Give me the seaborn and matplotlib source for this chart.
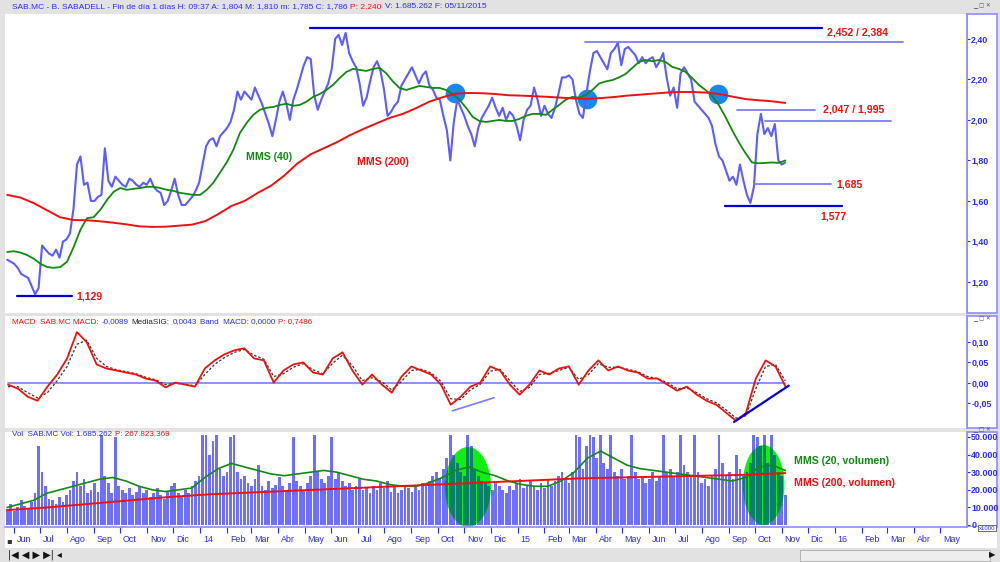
import pandas as pd
import matplotlib
matplotlib.use("Agg")
import matplotlib.pyplot as plt
import matplotlib.dates as mdates
import matplotlib.transforms as mtransforms
from matplotlib.patches import Ellipse, Rectangle
import seaborn as sns

# ---------------- data ----------------
price_start, price_end = "2013-05-24", "2015-11-05"

# close price, one value every ~4 days
price = [
    1.31, 1.30, 1.29, 1.27, 1.24, 1.23, 1.22, 1.18, 1.14, 1.17,
    1.38, 1.36, 1.34, 1.33, 1.36, 1.32, 1.40, 1.41, 1.44, 1.56,
    1.78, 1.82, 1.68, 1.69, 1.60, 1.60, 1.62, 1.63, 1.86, 1.70,
    1.67, 1.72, 1.70, 1.68, 1.67, 1.71, 1.70, 1.68, 1.67, 1.69,
    1.68, 1.71, 1.67, 1.65, 1.64, 1.58, 1.60, 1.65, 1.71, 1.63,
    1.58, 1.58, 1.60, 1.62, 1.65, 1.69, 1.78, 1.87, 1.90, 1.91,
    1.87, 1.92, 1.94, 1.96, 1.99, 2.05, 2.14, 2.10, 2.14, 2.12,
    2.10, 2.16, 2.12, 2.08, 2.03, 1.98, 1.92, 2.00, 2.09, 2.14,
    2.08, 2.00, 2.10, 2.15, 2.21, 2.27, 2.31, 2.30, 2.12, 2.05,
    2.10, 2.14, 2.18, 2.25, 2.40, 2.42, 2.37, 2.43, 2.33, 2.29,
    2.26, 2.18, 2.07, 2.11, 2.19, 2.26, 2.29, 2.24, 2.15, 2.02,
    2.04, 2.07, 2.09, 2.17, 2.20, 2.23, 2.26, 2.22, 2.18, 2.22,
    2.24, 2.17, 2.15, 2.11, 2.10, 2.02, 1.95, 1.80, 1.99, 2.10,
    2.06, 2.02, 1.97, 1.93, 1.87, 1.96, 2.01, 2.04, 2.07, 2.11,
    2.06, 2.02, 2.06, 2.00, 2.04, 2.02, 1.97, 1.90, 2.00, 2.05,
    2.07, 2.16, 2.10, 2.02, 2.07, 2.03, 2.01, 2.06, 2.13, 2.21,
    2.21, 2.22, 2.20, 2.10, 2.03, 2.01, 2.13, 2.24, 2.33, 2.34,
    2.31, 2.28, 2.25, 2.33, 2.35, 2.38, 2.27, 2.35, 2.36, 2.34,
    2.32, 2.28, 2.31, 2.28, 2.30, 2.31, 2.26, 2.29, 2.33, 2.21,
    2.12, 2.16, 2.06, 2.23, 2.26, 2.23, 2.20, 2.09, 2.07, 2.05,
    2.03, 2.01, 1.97, 1.88, 1.82, 1.80, 1.75, 1.70, 1.72, 1.68,
    1.78, 1.70, 1.63, 1.59, 1.67, 1.93, 2.03, 1.93, 1.96, 1.92,
    1.98, 1.80, 1.78, 1.79,
]

# MMS (40)
mms40 = [
    1.348, 1.352, 1.345, 1.333, 1.315, 1.29, 1.274, 1.27, 1.274, 1.30,
    1.373, 1.457, 1.515, 1.52, 1.556, 1.605, 1.645, 1.664, 1.655, 1.66,
    1.664, 1.67, 1.67, 1.664, 1.655, 1.65, 1.64, 1.635, 1.63, 1.63,
    1.655, 1.69, 1.74, 1.79, 1.852, 1.936, 1.985, 2.025, 2.05, 2.06,
    2.064, 2.074, 2.08, 2.07, 2.074, 2.09, 2.114, 2.128, 2.148, 2.173,
    2.207, 2.237, 2.252, 2.247, 2.242, 2.252, 2.257, 2.23, 2.19, 2.158,
    2.148, 2.158, 2.168, 2.163, 2.158, 2.158, 2.148, 2.128, 2.10, 2.06,
    2.015, 1.995, 1.99, 1.995, 2.00, 1.995, 1.995, 2.005, 2.02, 2.03,
    2.03, 2.025, 2.05, 2.074, 2.10, 2.114, 2.11, 2.123, 2.148, 2.18,
    2.19, 2.197, 2.21, 2.227, 2.257, 2.286, 2.296, 2.29, 2.296, 2.286,
    2.262, 2.252, 2.237, 2.207, 2.173, 2.148, 2.119, 2.074, 2.015, 1.95,
    1.89, 1.837, 1.79, 1.786, 1.788, 1.79, 1.788, 1.80,
]

# MMS (200)
mms200 = [
    1.63, 1.617, 1.59, 1.555, 1.52, 1.506, 1.505, 1.50, 1.493, 1.485,
    1.475, 1.472, 1.473, 1.478, 1.483, 1.50, 1.535, 1.575, 1.60, 1.64,
    1.675, 1.725, 1.785, 1.83, 1.86, 1.89, 1.925, 1.955, 1.983, 2.01,
    2.03, 2.058, 2.09, 2.112, 2.13, 2.133, 2.132, 2.128, 2.122, 2.12,
    2.117, 2.114, 2.11, 2.106, 2.104, 2.108, 2.113, 2.12, 2.125, 2.13,
    2.135, 2.138, 2.138, 2.135, 2.128, 2.115, 2.103, 2.097, 2.092, 2.084,
]

# MMS crossings (blue dots)
cross_dates = ["2014-10-21", "2015-03-22", "2015-08-20"]
cross_values = [2.133, 2.104, 2.128]

# MACD panel
macd_start, macd_end = "2013-05-25", "2015-11-05"
macd = [
    -0.005, -0.015, -0.035, -0.045, -0.010, 0.020, 0.060, 0.125, 0.100, 0.045,
    0.035, 0.030, 0.025, 0.020, 0.010, 0.005, -0.012, 0.000, -0.005, -0.010,
    0.035, 0.055, 0.070, 0.080, 0.085, 0.060, 0.055, 0.000, 0.030, 0.045,
    0.050, 0.025, 0.020, 0.060, 0.075, 0.030, -0.005, 0.020, -0.005, -0.025,
    0.015, 0.040, 0.030, 0.020, -0.005, -0.055, -0.035, -0.010, 0.000, 0.040,
    0.030, -0.005, -0.030, -0.005, 0.030, 0.020, 0.035, 0.040, -0.005, 0.030,
    0.055, 0.030, 0.040, 0.030, 0.025, 0.010, 0.010, -0.005, -0.020, -0.010,
    -0.030, -0.045, -0.055, -0.075, -0.095, -0.075, 0.010, 0.055, 0.040, -0.009,
]
macd_signal = [
    -0.010, -0.010, -0.025, -0.038, -0.025, 0.005, 0.040, 0.095, 0.105, 0.060,
    0.040, 0.032, 0.027, 0.022, 0.013, 0.007, -0.005, -0.002, -0.004, -0.008,
    0.020, 0.045, 0.062, 0.075, 0.082, 0.068, 0.058, 0.015, 0.022, 0.038,
    0.047, 0.032, 0.022, 0.048, 0.068, 0.042, 0.005, 0.012, 0.002, -0.018,
    0.003, 0.030, 0.033, 0.024, 0.003, -0.040, -0.042, -0.018, -0.004, 0.028,
    0.033, 0.005, -0.022, -0.012, 0.020, 0.023, 0.030, 0.038, 0.008, 0.020,
    0.047, 0.038, 0.038, 0.033, 0.027, 0.015, 0.010, 0.000, -0.015, -0.013,
    -0.025, -0.040, -0.050, -0.068, -0.088, -0.082, -0.015, 0.040, 0.045, 0.004,
]

# volume, millions of shares (same dates as price)
volume = [
    9, 12, 8, 10, 14, 11, 9, 13, 18, 45,
    30, 22, 15, 14, 12, 16, 13, 17, 20, 25,
    30, 22, 26, 18, 20, 24, 19, 51, 28, 24,
    18, 50, 22, 20, 18, 21, 17, 19, 22, 18,
    20, 16, 18, 21, 17, 15, 19, 22, 24, 18,
    16, 20, 18, 22, 25, 28, 51, 51, 40, 48,
    51, 32, 28, 30, 50, 51, 30, 26, 28, 24,
    22, 26, 34, 22, 20, 25, 21, 23, 27, 22,
    20, 24, 50, 25, 22, 20, 24, 28, 51, 30,
    26, 24, 28, 50, 26, 30, 25, 22, 24, 20,
    22, 26, 20, 21, 18, 22, 20, 24, 21, 25,
    19, 22, 18, 20, 23, 21, 19, 22, 20, 24,
    22, 25, 28, 30, 26, 32, 38, 51, 40, 35,
    30, 28, 51, 45, 32, 28, 25, 24, 22, 20,
    24, 22, 20, 18, 22, 20, 24, 26, 21, 23,
    25, 22, 20, 24, 21, 26, 22, 25, 28, 30,
    26, 24, 30, 51, 50, 32, 45, 51, 50, 38,
    51, 35, 32, 51, 30, 28, 32, 26, 28, 51,
    30, 26, 28, 24, 26, 30, 25, 28, 51, 30,
    32, 28, 30, 51, 34, 30, 28, 51, 30, 24,
    26, 22, 28, 32, 51, 35, 28, 30, 26, 40,
    32, 28, 30, 35, 51, 50, 45, 51, 35, 51,
    40, 30, 28, 17,
]
vol_mms20 = [
    10, 12, 14, 18, 20, 22, 24, 26, 27, 25,
    22, 20, 19, 20, 21, 27, 32, 35, 33, 31,
    29, 28, 29, 30, 31, 30, 28, 26, 25, 23,
    22, 22, 24, 27, 31, 33, 30, 28, 25, 23,
    22, 22, 25, 30, 38, 42, 38, 34, 32, 31,
    30, 29, 28, 27, 26, 25, 27, 33, 34, 31,
]
vol_mms200 = [
    8.5, 10, 12, 14, 16, 17.5, 18.5, 19.5, 20.5, 21.5,
    22.5, 23.5, 24.5, 25.5, 26.5, 27, 27.5, 28, 28.5, 29.5,
]

month_labels = ["Jun", "Jul", "Ago", "Sep", "Oct", "Nov", "Dic", "14", "Feb",
                "Mar", "Abr", "May", "Jun", "Jul", "Ago", "Sep", "Oct", "Nov",
                "Dic", "15", "Feb", "Mar", "Abr", "May", "Jun", "Jul", "Ago",
                "Sep", "Oct", "Nov", "Dic", "16", "Feb", "Mar", "Abr", "May"]

# support / resistance lines: value, from, to, strong
levels = [
    (2.452, "2014-05-07", "2015-12-17", True),
    (2.384, "2015-03-20", "2016-03-19", False),
    (2.047, "2015-09-11", "2015-12-09", False),
    (1.995, "2015-10-13", "2016-03-06", False),
    (1.685, "2015-09-30", "2015-12-27", False),
    (1.577, "2015-08-28", "2016-01-09", True),
    (1.129, "2013-06-04", "2013-08-06", True),
]
level_labels = [
    ("2,452 / 2,384", "2015-12-23", 2.430),
    ("2,047 / 1,995", "2015-12-18", 2.050),
    ("1,685", "2016-01-03", 1.680),
    ("1,577", "2015-12-15", 1.525),
    ("1,129", "2013-08-12", 1.126),
]

# volume highlights: centre date, centre value, width in days, height
vol_marks = [("2014-11-05", 21.6, 53, 45.4), ("2015-10-11", 22.7, 48, 45.4)]

# ---------------- styling ----------------
sns.set_theme(style="white")
plt.rcParams["font.family"] = ["Liberation Sans", "DejaVu Sans"]

W, H = 1000, 562
BLUE_TXT = "#2a2aff"
PRICE_C = "#5c5cff"
GREEN = "#118a11"
RED = "#f01010"
FRAME = "#8c8cff"
DARK = "#0000dd"
LIGHT = "#7c7cff"
VOL_C = "#6e6eff"


def rect(x0, y0, x1, y1):
    return [x0 / W, 1 - y1 / H, (x1 - x0) / W, (y1 - y0) / H]


fig = plt.figure(figsize=(10, 5.62), dpi=100, facecolor="#e2e2e2")

# white backgrounds of the right scales and the date strip
for y0, y1 in [(14, 313), (316, 428), (432, 527)]:
    fig.add_artist(Rectangle((967 / W, 1 - y1 / H), 30 / W, (y1 - y0) / H,
                             transform=fig.transFigure, facecolor="white",
                             edgecolor=FRAME, lw=1.2, zorder=0))
fig.add_artist(Rectangle((5 / W, 1 - 548 / H), 992 / W, 21 / H,
                         transform=fig.transFigure, facecolor="white",
                         edgecolor="none", zorder=0))

axp = fig.add_axes(rect(5, 14, 967, 313))
axm = fig.add_axes(rect(5, 316, 967, 428), sharex=axp)
axv = fig.add_axes(rect(5, 432, 967, 527), sharex=axp)

d_price = pd.date_range(price_start, price_end, periods=len(price))
d_m40 = pd.date_range(price_start, price_end, periods=len(mms40))
d_m200 = pd.date_range(price_start, price_end, periods=len(mms200))
d_macd = pd.date_range(macd_start, macd_end, periods=len(macd))
d_sig = pd.date_range(macd_start, macd_end, periods=len(macd_signal))
d_v20 = pd.date_range(price_start, price_end, periods=len(vol_mms20))
d_v200 = pd.date_range(price_start, price_end, periods=len(vol_mms200))

# ---- price panel ----
axp.scatter(pd.to_datetime(cross_dates), cross_values, s=200,
            color="#1a86f0", zorder=1.5, linewidths=0)
sns.lineplot(x=d_price, y=price, ax=axp, color=PRICE_C, lw=1.5, estimator=None, zorder=2)
sns.lineplot(x=d_m40, y=mms40, ax=axp, color=GREEN, lw=1.3, estimator=None, zorder=3)
sns.lineplot(x=d_m200, y=mms200, ax=axp, color=RED, lw=1.4, estimator=None, zorder=3)

for val, a, b, strong in levels:
    axp.plot(pd.to_datetime([a, b]), [val, val], color=DARK if strong else LIGHT,
             lw=1.6 if strong else 1.3, zorder=4)
for txt, d, val in level_labels:
    axp.text(pd.Timestamp(d), val, txt, color=RED, fontsize=7.6,
             fontweight="bold", va="center", ha="left")
axp.text(pd.Timestamp("2014-02-23"), 1.817, "MMS (40)", color=GREEN,
         fontsize=7.6, fontweight="bold", va="center")
axp.text(pd.Timestamp("2014-06-30"), 1.790, "MMS (200)", color=RED,
         fontsize=7.6, fontweight="bold", va="center")

# ---- MACD panel ----
axm.plot(pd.to_datetime([macd_start, macd_end]), [0, 0], color=LIGHT, lw=1.2)
sns.lineplot(x=d_sig, y=macd_signal, ax=axm, color="#333333", lw=0.9,
             linestyle=(0, (2, 1.5)), estimator=None)
sns.lineplot(x=d_macd, y=macd, ax=axm, color=RED, lw=1.3, estimator=None)
axm.plot(pd.to_datetime(["2014-10-18", "2014-12-05"]), [-0.070, -0.0375],
         color=LIGHT, lw=1.2)
axm.plot(pd.to_datetime(["2015-09-07", "2015-11-09"]), [-0.0975, -0.0075],
         color=DARK, lw=1.6)

# ---- volume panel ----
axv.bar(d_price, volume, width=3.2, color=VOL_C, linewidth=0, zorder=1)
for center, val, wd, ht in vol_marks:
    ell = Ellipse((mdates.date2num(pd.Timestamp(center)), val), wd, ht,
                  facecolor="#10f010", lw=0, zorder=2)
    axv.add_patch(ell)
    # bars seen through the green mark turn teal
    inner = axv.bar(d_price, volume, width=3.2, color="#0a7f6a", linewidth=0, zorder=2.5)
    for patch in inner:
        patch.set_clip_path(ell)
sns.lineplot(x=d_v20, y=vol_mms20, ax=axv, color=GREEN, lw=1.2, estimator=None, zorder=3)
sns.lineplot(x=d_v200, y=vol_mms200, ax=axv, color=RED, lw=1.4, estimator=None, zorder=3)
axv.text(pd.Timestamp("2015-11-15"), 36.4, "MMS (20, volumen)", color=GREEN,
         fontsize=7.6, fontweight="bold", va="center")
axv.text(pd.Timestamp("2015-11-15"), 23.9, "MMS (200, volumen)", color=RED,
         fontsize=7.6, fontweight="bold", va="center")

# ---- axes cosmetics ----
axp.set_xlim(pd.Timestamp("2013-05-21 12:00"), pd.Timestamp("2016-06-01"))
axp.set_ylim(1.047, 2.523)
axm.set_ylim(-0.1125, 0.165)
axv.set_ylim(-1.14, 52.84)

scales = [
    (axp, [1.2, 1.4, 1.6, 1.8, 2.0, 2.2, 2.4], lambda v: f"{v:.2f}".replace(".", ",")),
    (axm, [-0.05, 0.0, 0.05, 0.10], lambda v: f"{v:.2f}".replace(".", ",")),
    (axv, [0, 10, 20, 30, 40, 50], lambda v: "0" if v == 0 else f"{int(v)}.000"),
]
for ax, ticks, fmt in scales:
    ax.set_facecolor("white")
    for s in ["top", "left", "bottom"]:
        ax.spines[s].set_visible(False)
    ax.spines["right"].set_color(FRAME)
    ax.spines["right"].set_linewidth(1.2)
    ax.set_xlabel("")
    ax.set_ylabel("")
    ax.yaxis.tick_right()
    ax.set_yticks(ticks)
    ax.set_yticklabels([fmt(t) for t in ticks], fontweight="bold")
    ax.tick_params(axis="y", direction="out", length=2.5, width=0.8, color=BLUE_TXT,
                   labelcolor=BLUE_TXT, labelsize=6.4, pad=0.5)
    ax.grid(False)

for ax in (axp, axm):
    ax.tick_params(axis="x", bottom=False, labelbottom=False)

months = pd.date_range("2013-06-01", "2016-05-01", freq="MS")
axv.spines["bottom"].set_visible(True)
axv.spines["bottom"].set_color(FRAME)
axv.spines["bottom"].set_linewidth(1.2)
axv.set_xticks(months)
axv.set_xticklabels(month_labels)
axv.tick_params(axis="x", direction="out", length=4, width=0.8, color=BLUE_TXT,
                labelcolor=BLUE_TXT, labelsize=6.4, pad=2, bottom=True, labelbottom=True)
shift = mtransforms.ScaledTranslation(2 / 72, 0, fig.dpi_scale_trans)
for lab in axv.get_xticklabels():
    lab.set_ha("left")
    lab.set_transform(lab.get_transform() + shift)

# ---- header texts (chained pieces of different colours) ----
renderer = fig.canvas.get_renderer()


def chain(x_px, y_px, parts, size):
    x = x_px
    for txt, col in parts:
        t = fig.text(x / W, 1 - y_px / H, txt, color=col, fontsize=size,
                     va="center", ha="left")
        x += t.get_window_extent(renderer).width + 3


chain(12, 7, [("SAB.MC - B. SABADELL - Fin de día 1 días H: 09:37 A: 1,804 M: 1,810 "
               "m: 1,785 C: 1,786", BLUE_TXT), ("P: 2,240", RED),
              ("V: 1.685.262 F: 05/11/2015", BLUE_TXT)], 6.0)
chain(12, 322, [("MACD  SAB.MC MACD:", RED), ("-0,0089", BLUE_TXT),
                ("MediaSIG:", "#222222"), ("0,0043", BLUE_TXT),
                ("Band  MACD: 0,0000", BLUE_TXT), ("P: 0,7486", RED)], 5.8)
chain(12, 434, [("Vol  SAB.MC Vol: 1.685.262", BLUE_TXT), ("P: 267.823.369", RED)], 5.8)

# window buttons, x1000 box and navigation bar
for yb in [6, 319, 430]:
    fig.text(982 / W, 1 - yb / H, "▁ ▢ ✕", fontsize=4.0, color="#555555",
             ha="center", va="center", family="DejaVu Sans")
fig.text(987 / W, 1 - 528 / H, "x1000", fontsize=4.3, color=BLUE_TXT, ha="center",
         va="center", bbox=dict(boxstyle="square,pad=0.15", fc="white", ec="#555555", lw=0.6))
fig.text(6 / W, 1 - 541 / H, "▪", fontsize=6, color="#333333", va="center",
         family="DejaVu Sans")
fig.text(8 / W, 1 - 555 / H, "|◀ ◀ ▶ ▶| ◂", fontsize=7, color="#111111",
         va="center", family="DejaVu Sans")
fig.add_artist(Rectangle((800 / W, 1 - 561 / H), 190 / W, 11 / H, transform=fig.transFigure,
                         facecolor="#eeeeee", edgecolor="#aaaaaa", lw=0.6))
fig.text(992 / W, 1 - 555 / H, "▶", fontsize=6, color="#111111", va="center",
         ha="center", family="DejaVu Sans")

fig.savefig("out.png", dpi=100, facecolor=fig.get_facecolor())
